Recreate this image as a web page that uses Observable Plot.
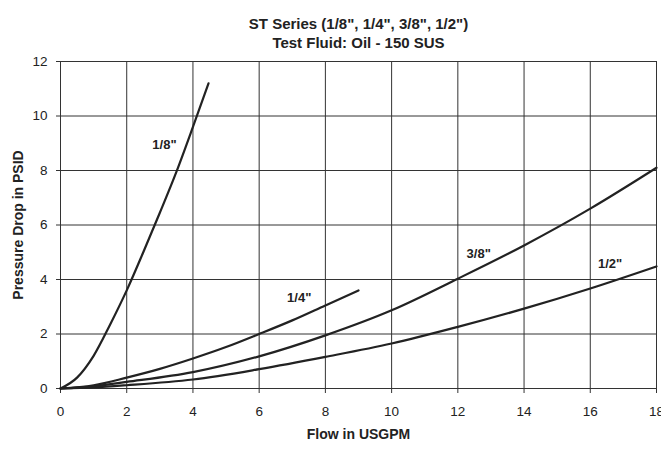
<!DOCTYPE html>
<html><head><meta charset="utf-8">
<script src="https://cdn.jsdelivr.net/npm/d3@7"></script>
<script src="https://cdn.jsdelivr.net/npm/@observablehq/plot@0.6"></script>
<style>body{margin:0;background:#fff;} svg{display:block;}</style>
</head><body><div id="chart"></div>
<script>
const titleLines = ['ST Series (1/8", 1/4", 3/8", 1/2")', 'Test Fluid: Oil - 150 SUS'];
const xLabel = "Flow in USGPM";
const yLabel = "Pressure Drop in PSID";
const xTicks = [0,2,4,6,8,10,12,14,16,18];
const yTicks = [0,2,4,6,8,10,12];

const s18x = [0,0.5,1.0,1.5,2.0,2.5,3.0,3.5,4.0,4.47];
const s18y = [0,0.4,1.2,2.35,3.6,5.0,6.45,7.95,9.6,11.2];
const s14x = [0,1,2,3,4,5,6,7,8,9];
const s14y = [0,0.12,0.4,0.72,1.1,1.52,2.0,2.5,3.05,3.6];
const s38x = [0,1,2,4,6,8,10,12,14,16,18];
const s38y = [0,0.08,0.24,0.6,1.18,1.95,2.87,4.03,5.25,6.6,8.1];
const s12x = [0,1,2,4,6,8,10,12,14,16,18];
const s12y = [0,0.04,0.12,0.33,0.71,1.16,1.65,2.26,2.93,3.67,4.48];

const seriesNames = ['1/8"','1/4"','3/8"','1/2"'];
const labelX = [3.14,7.21,12.63,16.6];
const labelY = [8.95,3.32,4.95,4.58];

const allSeries = [[s18x,s18y],[s14x,s14y],[s38x,s38y],[s12x,s12y]];
const lineData = allSeries.flatMap(([xs,ys],i)=>xs.map((x,j)=>({series:seriesNames[i],x,y:ys[j]})));
const labels = seriesNames.map((n,i)=>({name:n,x:labelX[i],y:labelY[i]}));

const font = "'Liberation Sans', Arial, sans-serif";
const chart = Plot.plot({
  width: 661, height: 449,
  marginLeft: 60, marginRight: 5, marginTop: 61, marginBottom: 61,
  style: {fontFamily: font, background: "#fff", color: "#222"},
  x: {domain: [0,18]},
  y: {domain: [0,12]},
  marks: [
    Plot.gridX(xTicks, {stroke: "#333", strokeOpacity: 1, strokeWidth: 1}),
    Plot.gridY(yTicks, {stroke: "#333", strokeOpacity: 1, strokeWidth: 1}),
    Plot.axisX({ticks: xTicks, tickSize: 5, tickPadding: 13, fontSize: 13.5, label: null, stroke: "#333", fill: "#222"}),
    Plot.axisY({ticks: yTicks, tickSize: 4, tickPadding: 9, fontSize: 13.5, label: null, stroke: "#333", fill: "#222"}),
    Plot.line(lineData, {x: "x", y: "y", z: "series", curve: "monotone-x", stroke: "#222", strokeWidth: 2.2}),
    Plot.text(labels, {x: "x", y: "y", text: "name", fontSize: 13, fontWeight: "bold", fill: "#222"}),
    Plot.text([titleLines[0]], {frameAnchor: "top", dy: -43, fontSize: 15, fontWeight: "bold", fill: "#222"}),
    Plot.text([titleLines[1]], {frameAnchor: "top", dy: -24.5, fontSize: 15, fontWeight: "bold", fill: "#222"}),
    Plot.text([xLabel], {frameAnchor: "bottom", dy: 50, fontSize: 14, fontWeight: "bold", fill: "#222"}),
    Plot.text([yLabel], {frameAnchor: "left", dx: -42, rotate: -90, textAnchor: "middle", fontSize: 14, fontWeight: "bold", fill: "#222"})
  ]
});
document.getElementById("chart").append(chart);
</script></body></html>
